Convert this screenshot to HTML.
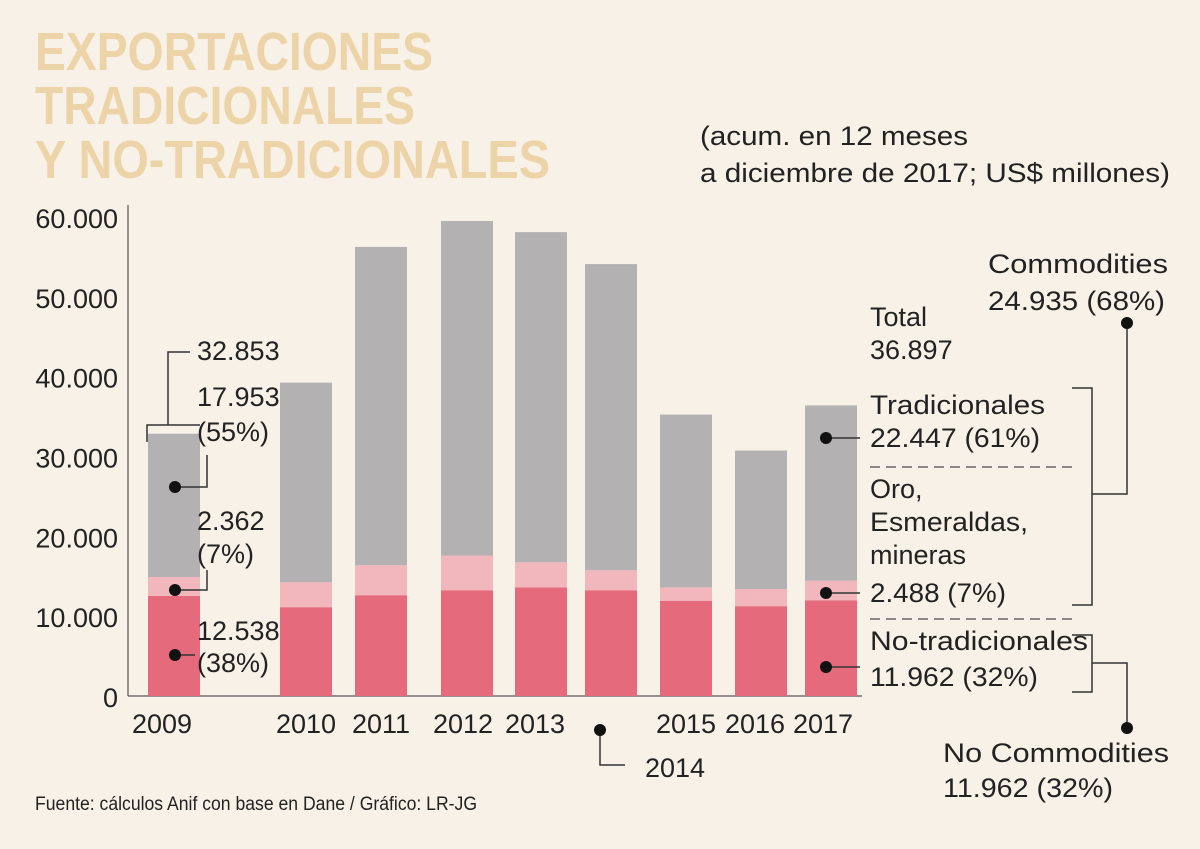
<!DOCTYPE html>
<html><head><meta charset="utf-8"><style>
html,body{margin:0;padding:0;background:#f8f1e7;}
svg{display:block;font-family:"Liberation Sans",sans-serif;}
.t{fill:#222;font-size:27px;}
</style></head><body>
<svg id="chart" width="1200" height="849" viewBox="0 0 1200 849">
<rect width="1200" height="849" fill="#f8f1e7"/>
<g fill="#ecd3a8" font-weight="bold" font-size="54">
<text x="35" y="70" textLength="398" lengthAdjust="spacingAndGlyphs">EXPORTACIONES</text>
<text x="35" y="124" textLength="380" lengthAdjust="spacingAndGlyphs">TRADICIONALES</text>
<text x="35" y="178" textLength="515" lengthAdjust="spacingAndGlyphs">Y NO-TRADICIONALES</text>
</g>
<g id="axes"></g>
<g id="bars"></g>
<g class="t">
<text x="700" y="145" textLength="268" lengthAdjust="spacingAndGlyphs">(acum. en 12 meses</text>
<text x="700" y="182" textLength="470" lengthAdjust="spacingAndGlyphs">a diciembre de 2017; US$ millones)</text>
<text x="988" y="273" textLength="180" lengthAdjust="spacingAndGlyphs">Commodities</text>
<text x="988" y="310" textLength="177" lengthAdjust="spacingAndGlyphs">24.935  (68%)</text>
<text x="870" y="326">Total</text>
<text x="870" y="359">36.897</text>
<text x="870" y="414" textLength="175" lengthAdjust="spacingAndGlyphs">Tradicionales</text>
<text x="870" y="447" textLength="170" lengthAdjust="spacingAndGlyphs">22.447 (61%)</text>
<text x="870" y="498">Oro,</text>
<text x="870" y="531" textLength="158" lengthAdjust="spacingAndGlyphs">Esmeraldas,</text>
<text x="870" y="564">mineras</text>
<text x="870" y="602" textLength="136" lengthAdjust="spacingAndGlyphs">2.488 (7%)</text>
<text x="870" y="650" textLength="218" lengthAdjust="spacingAndGlyphs">No-tradicionales</text>
<text x="870" y="686" textLength="168" lengthAdjust="spacingAndGlyphs">11.962 (32%)</text>
<text x="943" y="762" textLength="226" lengthAdjust="spacingAndGlyphs">No Commodities</text>
<text x="943" y="797" textLength="170" lengthAdjust="spacingAndGlyphs">11.962  (32%)</text>
<text x="197" y="360">32.853</text>
<text x="197" y="406">17.953</text>
<text x="197" y="441">(55%)</text>
<text x="197" y="530">2.362</text>
<text x="197" y="563">(7%)</text>
<text x="197" y="640">12.538</text>
<text x="197" y="672">(38%)</text>
<text x="645" y="777">2014</text>
<text x="35" y="810" font-size="19" textLength="442" lengthAdjust="spacingAndGlyphs">Fuente: cálculos Anif con base en Dane / Gráfico: LR-JG</text>
</g>
<g stroke="#333" stroke-width="1.5" fill="none">
<polyline points="147,442 147,425 200,425"/>
<polyline points="168,425 168,352 190,352"/>
<polyline points="175,487 207,487 207,455"/>
<polyline points="175,590 207,590 207,570"/>
<polyline points="175,655 195,655"/>
<polyline points="826,438 860,438"/>
<polyline points="826,593 860,593"/>
<polyline points="826,667 860,667"/>
<polyline points="600,730 600,765 625,765"/>
<polyline points="1072,388 1092,388 1092,605 1072,605"/>
<polyline points="1092,494 1127,494 1127,323"/>
<polyline points="1072,635 1092,635 1092,692 1072,692"/>
<polyline points="1092,663 1127,663 1127,728"/>
<line x1="870" y1="467" x2="1072" y2="467" stroke-dasharray="10,6" stroke="#666"/>
<line x1="870" y1="619" x2="1072" y2="619" stroke-dasharray="10,6" stroke="#666"/>
</g>
<g fill="#111">
<circle cx="175" cy="487" r="6"/><circle cx="175" cy="590" r="6"/><circle cx="175" cy="655" r="6"/>
<circle cx="826" cy="438" r="6"/><circle cx="826" cy="593" r="6"/><circle cx="826" cy="667" r="6"/>
<circle cx="600" cy="730" r="6"/><circle cx="1127" cy="323" r="6"/><circle cx="1127" cy="728" r="6"/>
</g>
</svg>
<script>
const years = ['2009','2010','2011','2012','2013','2014','2015','2016','2017'];
const noTradicionales = [12538,11125,12625,13250,13600,13250,11900,11250,11962];
const oro = [2362,3125,3750,4350,3150,2500,1700,2150,2488];
const tradicionales = [17953,25000,39875,41900,41350,38350,21650,17350,21947];
const yTicks = [0,10000,20000,30000,40000,50000,60000];
const yTickLabels = ['0','10.000','20.000','30.000','40.000','50.000','60.000'];
const xLabelShow = [true,true,true,true,true,false,true,true,true];

const NS='http://www.w3.org/2000/svg';
const y0=696, pxPer=479/60000;
const y = v => y0 - v*pxPer;
const barX = [148,280,355,441,515,585,660,735,805];
const labelShift = [-12,0,0,-4,-6,0,0,-6,-8];
const bw=52;
const x = i => barX[i];
function mk(tag,attrs,parent){const e=document.createElementNS(NS,tag);for(const k in attrs)e.setAttribute(k,attrs[k]);parent.appendChild(e);return e;}
const axes=document.getElementById('axes'), bars=document.getElementById('bars');
let ax=mk('line',{x1:128,y1:205,x2:128,y2:y0,stroke:'#555','stroke-width':1.2},axes);


let bx=mk('line',{x1:128,y1:y0,x2:862,y2:y0,stroke:'#555','stroke-width':1.2},axes);


yTicks.forEach((v,i)=>{
  const t=mk('text',{x:118,y:y(v)+11,'text-anchor':'end',class:'t'},axes);
  t.textContent=yTickLabels[i];
  
  
});
years.forEach((yr,i)=>{
  const a=noTradicionales[i], b=oro[i], c=tradicionales[i];
  const r1=mk('rect',{x:x(i),y:y(a),width:bw,height:a*pxPer,fill:'#e46a7c'},bars);
  
  
  const r2=mk('rect',{x:x(i),y:y(a+b),width:bw,height:b*pxPer,fill:'#f2b7bd'},bars);
  
  
  const r3=mk('rect',{x:x(i),y:y(a+b+c),width:bw,height:c*pxPer,fill:'#b3b1b2'},bars);
  
  
  if(xLabelShow[i]){
    const t=mk('text',{x:x(i)+bw/2+labelShift[i],y:733,'text-anchor':'middle',class:'t'},axes);
    t.textContent=yr;
    
    
  }
});
</script>
</body></html>
